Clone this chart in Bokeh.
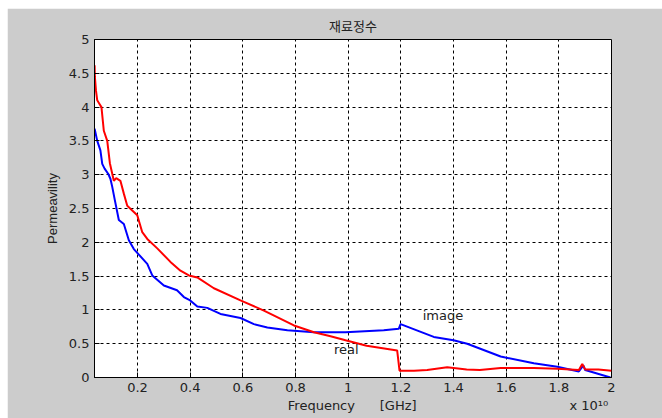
from bokeh.plotting import figure
from bokeh.models import Range1d, FixedTicker
from bokeh.core.properties import value
from bokeh.embed import file_html
from bokeh.resources import INLINE

# ---- data (x in units of 1e10 Hz) ----
real_x = [0.037, 0.038, 0.042, 0.047, 0.055, 0.063, 0.072, 0.085, 0.095, 0.110,
          0.119, 0.135, 0.148, 0.161, 0.180, 0.199, 0.218, 0.237, 0.275, 0.325,
          0.363, 0.395, 0.427, 0.49, 0.591, 0.68, 0.794, 0.87, 0.933, 0.99,
          1.07, 1.186, 1.195, 1.25, 1.30, 1.376, 1.45, 1.5, 1.579, 1.705,
          1.794, 1.876, 1.889, 1.90, 1.95, 2.0]
real_y = [4.62, 4.45, 4.25, 4.10, 4.05, 4.0, 3.65, 3.5, 3.17, 2.91,
          2.95, 2.91, 2.72, 2.54, 2.47, 2.40, 2.15, 2.05, 1.91, 1.71,
          1.58, 1.51, 1.48, 1.32, 1.14, 0.99, 0.77, 0.67, 0.61, 0.55,
          0.47, 0.40, 0.10, 0.10, 0.11, 0.15, 0.12, 0.11, 0.14, 0.14,
          0.13, 0.11, 0.20, 0.12, 0.12, 0.10]

image_x = [0.037, 0.047, 0.059, 0.066, 0.075, 0.089, 0.097, 0.104, 0.114, 0.129,
           0.148, 0.167, 0.186, 0.237, 0.256, 0.30, 0.35, 0.376, 0.40, 0.427,
           0.465, 0.515, 0.591, 0.642, 0.693, 0.769, 0.87, 0.99, 1.135, 1.192,
           1.199, 1.325, 1.40, 1.452, 1.579, 1.705, 1.794, 1.876, 1.893, 1.90,
           1.996]
image_y = [3.68, 3.5, 3.36, 3.16, 3.09, 3.01, 2.94, 2.82, 2.62, 2.33,
           2.27, 2.03, 1.90, 1.68, 1.51, 1.36, 1.29, 1.19, 1.14, 1.05,
           1.03, 0.94, 0.88, 0.79, 0.74, 0.70, 0.67, 0.67, 0.70, 0.72,
           0.79, 0.60, 0.55, 0.50, 0.31, 0.21, 0.16, 0.09, 0.18, 0.11,
           0.0]

x_ticks = [0.2, 0.4, 0.6, 0.8, 1.0, 1.2, 1.4, 1.6, 1.8, 2.0]
x_tick_labels = ["0.2", "0.4", "0.6", "0.8", "1", "1.2", "1.4", "1.6", "1.8", "2"]
y_ticks = [0, 0.5, 1, 1.5, 2, 2.5, 3, 3.5, 4, 4.5, 5]
y_tick_labels = ["0", "0.5", "1", "1.5", "2", "2.5", "3", "3.5", "4", "4.5", "5"]

title_text = "재료정수"
x_label_main = "Frequency"
x_label_unit = "[GHz]"
x_scale_text = "x 10\u00b9\u2070"
y_label = "Permeavility"
curve_labels = ["image", "real"]

NB = "\u00a0"
# axis label: centred under the frame, scale factor pushed to the right end
x_label = (NB * 46 + x_label_main + NB * 6 + x_label_unit + NB * 37 + x_scale_text)

TICK_FONT = "DejaVu Sans"
YLAB_FONT = "Liberation Sans"
GRAY = "#cccccc"
INK = "#222222"

p = figure(width=655, height=410, output_backend="svg", toolbar_location=None,
           x_range=Range1d(0.0366, 2.0), y_range=Range1d(0, 5),
           min_border_left=87, min_border_right=51, min_border_top=31,
           min_border_bottom=41)
p.styles = {"margin-left": "7px", "margin-top": "8px"}
p.background_fill_color = "white"
p.border_fill_color = GRAY
p.outline_line_color = "black"
p.outline_line_width = 1

p.title.text = title_text
p.title.text_font = "Noto Sans CJK KR"
p.title.text_font_size = "13px"
p.title.text_font_style = "normal"
p.title.text_color = INK
p.title.align = "center"
p.title.offset = -6

for ax, ticks, labels in ((p.xaxis[0], x_ticks, x_tick_labels),
                          (p.yaxis[0], y_ticks, y_tick_labels)):
    ax.ticker = FixedTicker(ticks=ticks)
    ax.major_label_overrides = {t: l for t, l in zip(ticks, labels)}
    ax.major_tick_in = 5
    ax.major_tick_out = 0
    ax.minor_tick_in = 0
    ax.minor_tick_out = 0
    ax.axis_line_color = "black"
    ax.major_tick_line_color = "black"
    ax.major_label_text_font = TICK_FONT
    ax.major_label_text_font_size = "13px"
    ax.major_label_text_color = INK
    ax.major_label_standoff = 5
    ax.axis_label_text_font_size = "13px"
    ax.axis_label_text_font_style = "normal"
    ax.axis_label_text_color = INK

p.xaxis.axis_label = x_label
p.xaxis.axis_label_text_font = TICK_FONT
p.xaxis.axis_label_standoff = 3
p.yaxis.axis_label = y_label
p.yaxis.axis_label_text_font = YLAB_FONT
p.yaxis.axis_label_standoff = 6

p.xgrid.ticker = FixedTicker(ticks=x_ticks)
p.ygrid.ticker = FixedTicker(ticks=y_ticks)
for g in (p.xgrid[0], p.ygrid[0]):
    g.grid_line_color = "black"
    g.grid_line_dash = "3 3"
    g.grid_line_width = 1

p.line(image_x, image_y, line_color="#0000ff", line_width=2)
p.line(real_x, real_y, line_color="#ff0000", line_width=2)

p.text(x=[1.36, 0.993], y=[0.92, 0.41], text=curve_labels,
       text_font=value(TICK_FONT), text_font_size="13px", text_color=INK,
       text_align="center", text_baseline="middle")

open("out.html", "w").write(file_html(p, INLINE))
